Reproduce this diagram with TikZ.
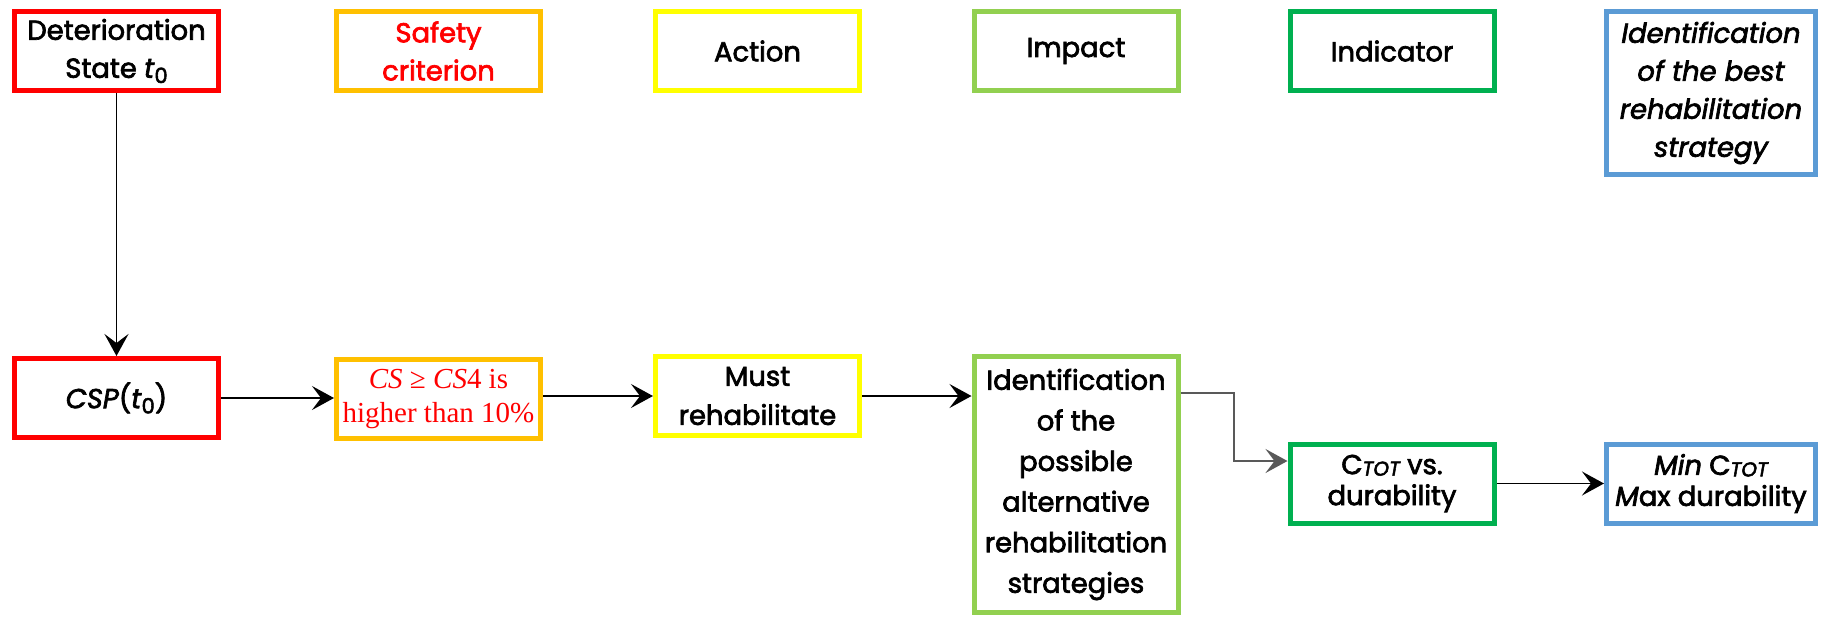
\documentclass[tikz,border=0pt]{standalone}
\usepackage{fontspec}
\setmainfont{Poppins}[FakeBold=2.5]
\newfontfamily\serifrm{Liberation Serif}
\usetikzlibrary{arrows.meta}
\definecolor{cred}{HTML}{FF0000}
\definecolor{corange}{HTML}{FFC000}
\definecolor{cyellow}{HTML}{FFFF00}
\definecolor{clgreen}{HTML}{92D050}
\definecolor{cgreen}{HTML}{00B050}
\definecolor{cblue}{HTML}{5B9BD5}
\definecolor{cgray}{HTML}{595959}
\newcommand{\subz}{\raisebox{-0.35ex}{\fontsize{10.5}{10.5}\selectfont 0}}
\newcommand{\ctot}{C\raisebox{-0.1ex}{\fontsize{10}{10}\selectfont\itshape TOT}}
\begin{document}
\begin{tikzpicture}[x=0.5pt,y=-0.5pt,
  box/.style={draw, line width=2.5pt, fill=white, minimum width=102pt, minimum height=39.5pt,
    inner sep=0pt, align=center, font=\fontsize{13.7}{19}\selectfont},
  conn/.style={line width=0.85pt, -{Stealth[length=11pt, width=12pt, inset=4.5pt]}}]
\useasboundingbox (0,0) rectangle (1822,617);
% top row
\node[box, draw=cred] (det) at (116.5,51) {Deterioration\\State \textit{t}\subz};
\node[box, draw=corange, text=cred] (safety) at (438.5,51) {Safety\\criterion};
\node[box, draw=cyellow] (action) at (757.5,51) {Action};
\node[box, draw=clgreen] (impact) at (1076,51) {Impact};
\node[box, draw=cgreen] (indicator) at (1392,51) {Indicator};
\node[box, draw=cblue, minimum width=104.5pt, minimum height=81.5pt, font=\fontsize{13.7}{19}\selectfont\itshape] (best) at (1711,93) {Identification\\of the best\\rehabilitation\\strategy};
% bottom row
\node[box, draw=cred] (csp) at (116.5,398) {\textit{CSP}(\textit{t}\subz)};
\node[box, draw=corange, text=cred, font=\fontsize{14.5}{17.4}\serifrm] (cs) at (438.5,399) {\textit{CS} ≥ \textit{CS}4 is\\higher than 10\%};
\node[box, draw=cyellow, font=\fontsize{13.7}{19.5}\selectfont] (must) at (757.5,396) {Must\\rehabilitate};
\node[box, draw=clgreen, minimum height=128pt, font=\fontsize{13.7}{20.3}\selectfont] (ident) at (1076,484.5) {Identification\\of the\\possible\\alternative\\rehabilitation\\strategies};
\node[box, draw=cgreen, font=\fontsize{13.7}{15.5}\selectfont] (ct) at (1392,483.5) {\ctot{} vs.\\durability};
\node[box, draw=cblue, minimum width=104.5pt, font=\fontsize{13.7}{15.5}\selectfont] (mn) at (1711,483.5) {\textit{Min} \ctot\\\textit{M}ax durability};
% connectors
\draw[conn] (det) -- (csp);
\draw[conn] (csp) -- (cs.west |- csp);
\draw[conn] (cs.east |- must) -- (must);
\draw[conn] (must.east) -- (must.east -| ident.west);
\coordinate (k1) at (1234,393);
\coordinate (k2) at (1234,461);
\draw[conn, draw=cgray, line width=1pt] (ident.east |- k1) -- (k1) -- (k2) -- (k2 -| ct.west);
\draw[conn] (ct) -- (mn);
\end{tikzpicture}
\end{document}
